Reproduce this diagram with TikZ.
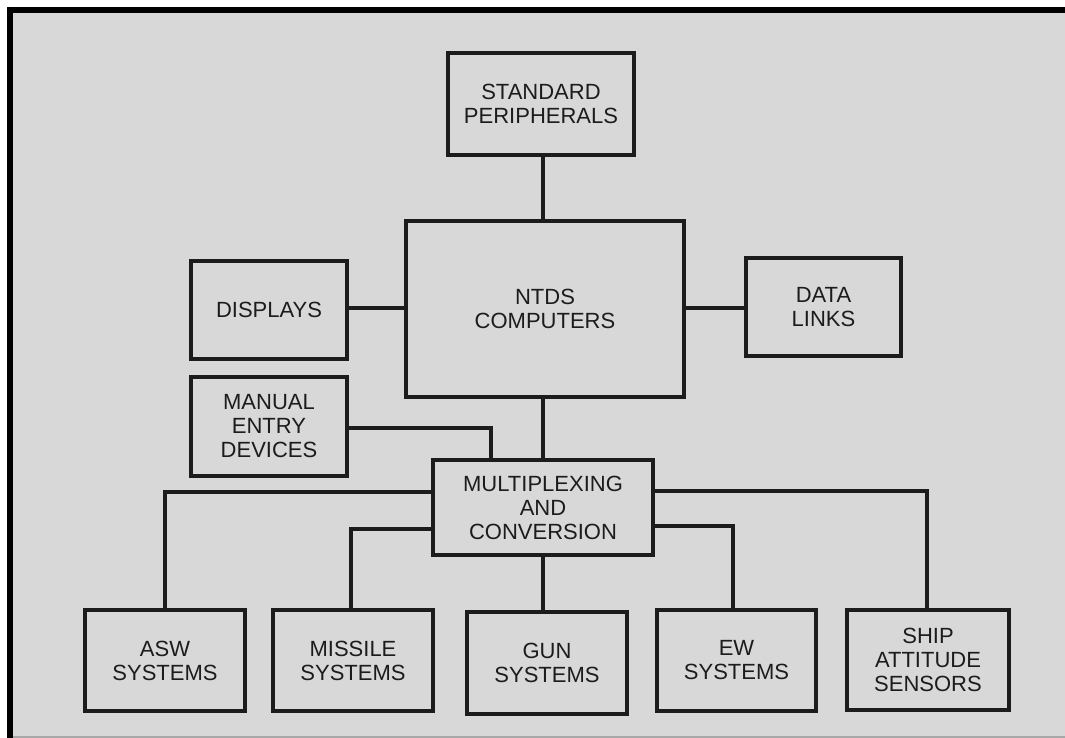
\documentclass[tikz,border=0pt]{standalone}
\usepackage{fontspec}
\setsansfont{Liberation Sans}
\definecolor{bg}{HTML}{D8D8D8}
\definecolor{ink}{HTML}{1C1C1C}
\definecolor{edge}{HTML}{A8A8A8}
\begin{document}
\begin{tikzpicture}[x=1pt,y=-1pt,
  blk/.style={draw=ink,line width=2.6pt,fill=bg,align=center,inner sep=0pt,
    font=\sffamily\fontsize{22}{24}\selectfont,text=ink},
  wire/.style={draw=ink,line width=4.5pt}]
\useasboundingbox (0,0) rectangle (1065,738);
\fill[white] (0,0) rectangle (1065,738);
\fill[bg] (7,7) rectangle (1070,743);
\fill[edge] (13,736) rectangle (1070,738);
\fill[black] (7,7) rectangle (1070,13);
\fill[black] (7,7) rectangle (13,743);
% nodes
\node[blk,minimum width=184pt,minimum height=100pt] (sp) at (541,104) {STANDARD\\PERIPHERALS};
\node[blk,minimum width=276pt,minimum height=174pt] (ntds) at (545,309) {NTDS\\COMPUTERS};
\node[blk,minimum width=154pt,minimum height=96pt] (disp) at (269,310) {DISPLAYS};
\node[blk,minimum width=153pt,minimum height=96pt] (dl) at (823.5,307) {DATA\\LINKS};
\node[blk,minimum width=154pt,minimum height=97pt] (man) at (269,426.5) {MANUAL\\ENTRY\\DEVICES};
\node[blk,minimum width=218pt,minimum height=93pt] (mux) at (543,507.5) {MULTIPLEXING\\AND\\CONVERSION};
\node[blk,minimum width=158pt,minimum height=99pt] (asw) at (165,660.5) {ASW\\SYSTEMS};
\node[blk,minimum width=158pt,minimum height=99pt] (mis) at (353,660.5) {MISSILE\\SYSTEMS};
\node[blk,minimum width=158pt,minimum height=100pt] (gun) at (547,663) {GUN\\SYSTEMS};
\node[blk,minimum width=157pt,minimum height=99pt] (ew) at (736.5,660.5) {EW\\SYSTEMS};
\node[blk,minimum width=160pt,minimum height=98pt] (ship) at (928,660) {SHIP\\ATTITUDE\\SENSORS};
% connectors
\draw[wire] ([xshift=2pt]sp.south) -- ([xshift=2pt]sp.south |- ntds.north);
\draw[wire] ([yshift=2pt]disp.east) -- ([yshift=2pt]disp.east -| ntds.west);
\draw[wire] ([yshift=-1pt]dl.west) -- ([yshift=-1pt]dl.west -| ntds.east);
\draw[wire] (mux.north) -- (mux.north |- ntds.south);
\draw[wire] ([yshift=-1.5pt]man.east) -| ([xshift=-52pt]mux.north);
\draw[wire] ([yshift=15.5pt]mux.west) -| (asw.north);
\draw[wire] ([yshift=-21.5pt]mux.west) -| ([xshift=-2pt]mis.north);
\draw[wire] (mux.south) -- (mux.south |- gun.north);
\draw[wire] ([yshift=-18.5pt]mux.east) -| ([xshift=-3.5pt]ew.north);
\draw[wire] ([yshift=16.5pt]mux.east) -| ([xshift=-1pt]ship.north);
% redraw box outlines over wire ends
\foreach \n in {sp,ntds,disp,dl,man,mux,asw,mis,gun,ew,ship}
  \draw[ink,line width=2.6pt] (\n.north west) rectangle (\n.south east);
\end{tikzpicture}
\end{document}
